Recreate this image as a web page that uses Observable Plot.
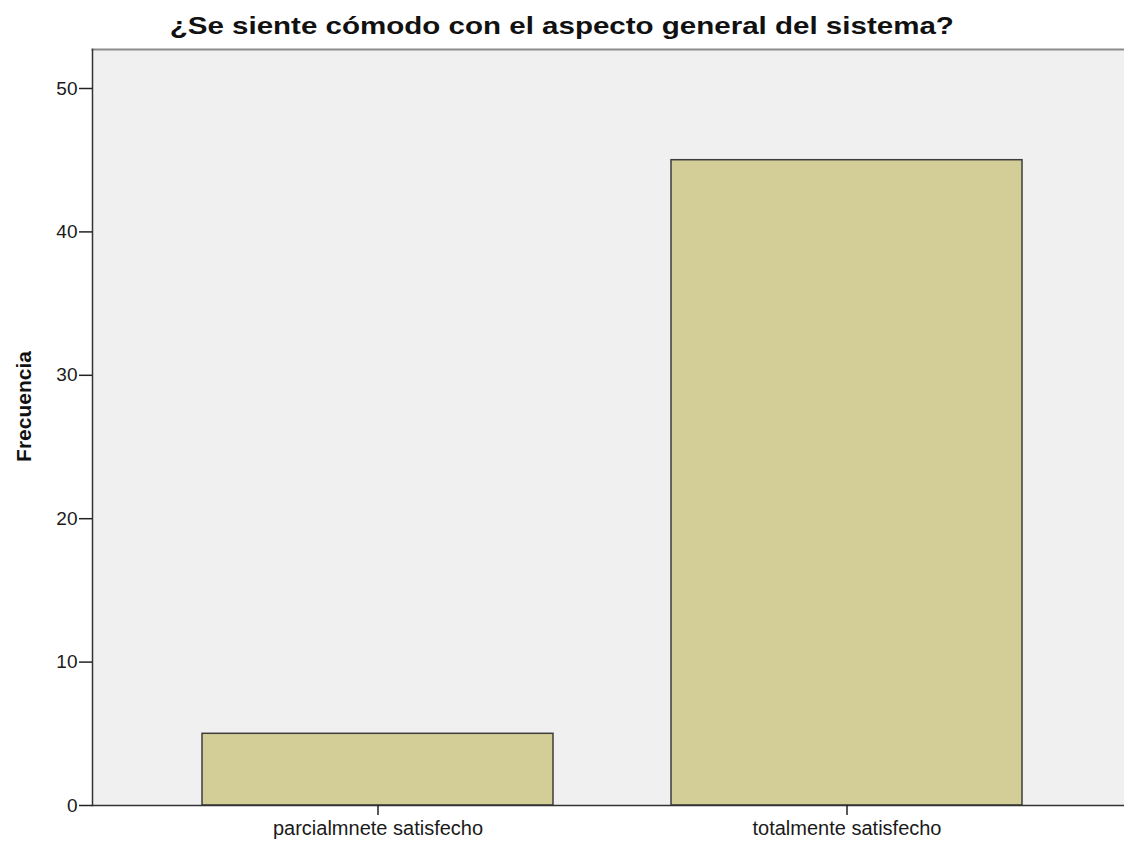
<!DOCTYPE html>
<html>
<head>
<meta charset="utf-8">
<script src="https://cdn.jsdelivr.net/npm/d3@7"></script>
<script src="https://cdn.jsdelivr.net/npm/@observablehq/plot@0.6"></script>
<style>
  html, body { margin: 0; padding: 0; background: #fff; }
  #title {
    width: 1124px; height: 40px; box-sizing: border-box;
    padding-top: 14px; text-align: center; overflow: visible;
    font: bold 24px/24px "Liberation Sans", Arial, sans-serif; color: #111;
  }
  #title span { display: inline-block; transform: scaleX(1.23); transform-origin: center; }
  #chart svg { display: block; }
</style>
</head>
<body>
<div id="title"><span>¿Se siente cómodo con el aspecto general del sistema?</span></div>
<div id="chart"></div>
<script>
const categories = ["parcialmnete satisfecho", "totalmente satisfecho"];
const frequencies = [5, 45];
const yTicks = [0, 10, 20, 30, 40, 50];
const yLabel = "Frecuencia";

const data = categories.map((c, i) => ({category: c, value: frequencies[i]}));

const chart = Plot.plot({
  width: 1124,
  height: 801,
  marginTop: 9,
  marginLeft: 92,
  marginRight: 0,
  marginBottom: 36,
  style: {fontFamily: "'Liberation Sans', Arial, sans-serif", fontSize: "19px", color: "#1a1a1a", background: "#fff"},
  x: {domain: categories, paddingInner: 0.2516, paddingOuter: 0.226, align: 0.519, label: null},
  y: {domain: [0, 52.72], label: null},
  marks: [
    Plot.frame({fill: "#f0f0f0", stroke: null}),
    Plot.barY(data, {x: "category", y: "value", fill: "#d3ce97", stroke: "#3c3c3c", strokeWidth: 1.5}),
    Plot.frame({anchor: "top", stroke: "#8c8c8c", strokeWidth: 2}),
    Plot.frame({anchor: "left", stroke: "#333", strokeWidth: 1.5}),
    Plot.frame({anchor: "bottom", stroke: "#333", strokeWidth: 1.5}),
    Plot.axisY({ticks: yTicks, tickSize: 13, tickPadding: 2, label: null, stroke: "#222", strokeWidth: 1.5}),
    Plot.axisX({tickSize: 10, tickPadding: 5, fontSize: 20, label: null, stroke: "#222", strokeWidth: 1.5}),
    Plot.text([yLabel], {frameAnchor: "left", textAnchor: "middle", rotate: -90, dx: -68, dy: -21, fontWeight: "bold", fontSize: 21, fill: "#111"})
  ]
});
document.getElementById("chart").appendChild(chart);
</script>
</body>
</html>
